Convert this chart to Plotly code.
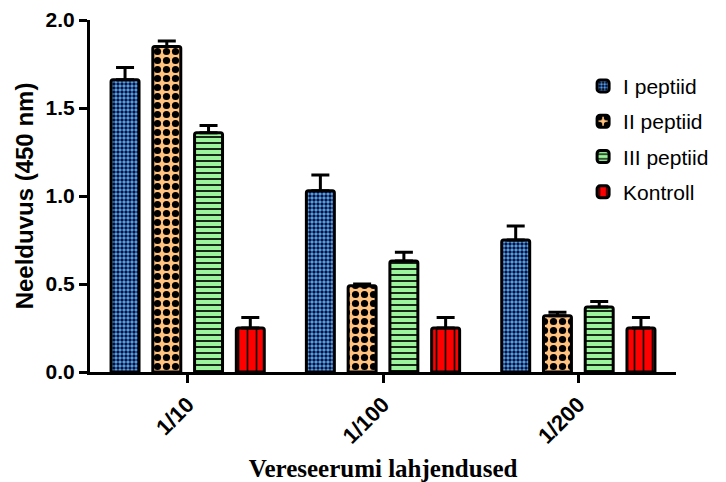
import plotly.graph_objects as go

# Serum dilutions and absorbance readings (mean and upper SD) per peptide
dilutions = ["1/10", "1/100", "1/200"]
series_names = ["I peptiid", "II peptiid", "III peptiid", "Kontroll"]

peptide_1 = [1.66, 1.03, 0.75]
peptide_1_err = [0.07, 0.09, 0.08]
peptide_2 = [1.85, 0.49, 0.32]
peptide_2_err = [0.03, 0.01, 0.02]
peptide_3 = [1.36, 0.63, 0.37]
peptide_3_err = [0.04, 0.05, 0.03]
control = [0.25, 0.25, 0.25]
control_err = [0.06, 0.06, 0.06]

values = [peptide_1, peptide_2, peptide_3, control]
errors = [peptide_1_err, peptide_2_err, peptide_3_err, control_err]

# fill style for each series: (pattern shape, background, foreground, size, solidity)
styles = [
    (".", "#000000", "#4D9BFF", 4, 0.6),
    (".", "#FFC27F", "#000000", 9, 0.5),
    ("-", "#9CF59C", "#000000", 6, 0.28),
    ("|", "#FF0000", "#000000", 9, 0.18),
]

fig = go.Figure()
for name, vals, errs, (shape, bg, fg, size, solid) in zip(series_names, values, errors, styles):
    fig.add_trace(go.Bar(
        name=name,
        x=dilutions,
        y=vals,
        legendgroup=name,
        marker=dict(
            color=bg,
            line=dict(color="black", width=3),
            pattern=dict(shape=shape, bgcolor=bg, fgcolor=fg, size=size,
                         solidity=solid, fillmode="replace"),
            cornerradius=2,
        ),
        error_y=dict(type="data", array=errs, arrayminus=[0] * len(errs),
                     symmetric=False, color="black", thickness=3, width=9),
    ))

axis_font = dict(family="Liberation Sans, Arial, sans-serif", size=21,
                 color="black", weight=700)

fig.update_layout(
    width=726,
    height=482,
    margin=dict(l=90, r=47, t=20, b=110),
    paper_bgcolor="white",
    plot_bgcolor="white",
    barmode="group",
    bargap=0.145,
    bargroupgap=0.33,
    showlegend=True,
    legend=dict(
        x=1.065, y=0.87, xanchor="right", yanchor="top",
        font=dict(family="Liberation Sans, Arial, sans-serif", size=21, color="black"),
        bgcolor="rgba(0,0,0,0)",
        tracegroupgap=5,
    ),
    xaxis=dict(
        type="category",
        categoryorder="array",
        categoryarray=dilutions,
        range=[-0.5, 2.5],
        automargin=False,
        showline=True, linecolor="black", linewidth=3,
        ticks="outside", ticklen=8, tickwidth=3, tickcolor="black",
        tickangle=-45,
        tickfont=dict(family="Liberation Sans, Arial, sans-serif", size=22,
                      color="black", weight=700),
        showgrid=False, zeroline=False,
        title=dict(text="Vereseerumi lahjendused",
                   font=dict(family="Liberation Serif, Times New Roman, serif",
                             size=25, color="black", weight=700),
                   standoff=22),
    ),
    yaxis=dict(
        range=[0, 2],
        tickvals=[0, 0.5, 1.0, 1.5, 2.0],
        tickformat=".1f",
        automargin=False,
        showline=True, linecolor="black", linewidth=3,
        ticks="outside", ticklen=8, tickwidth=3, tickcolor="black",
        tickfont=axis_font,
        showgrid=False, zeroline=False,
        title=dict(text="Neelduvus (450 nm)",
                   font=dict(family="Liberation Sans, Arial, sans-serif",
                             size=24, color="black", weight=700),
                   standoff=6),
    ),
)

fig.write_html("out.html")
